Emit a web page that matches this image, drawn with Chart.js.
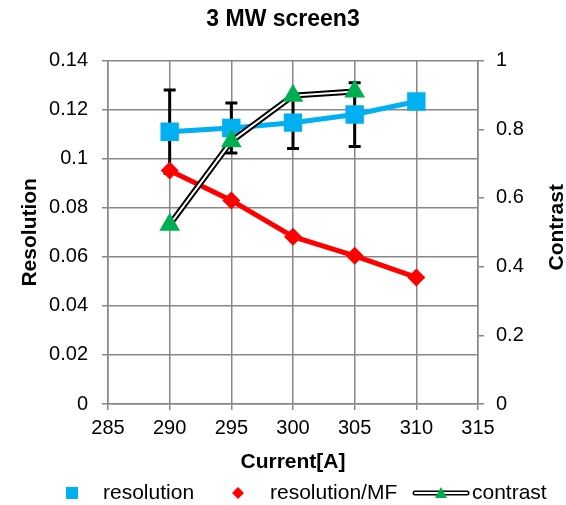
<!DOCTYPE html>
<html>
<head>
<meta charset="utf-8">
<script src="https://cdn.jsdelivr.net/npm/chart.js@4"></script>
<style>
  html, body { margin: 0; padding: 0; background: #fff; }
  #wrap { width: 566px; height: 505px; }
</style>
</head>
<body>
<div id="wrap"><canvas id="myChart" width="566" height="505"></canvas></div>
<script>
// data
const currents = [290, 295, 300, 305, 310];
const resolution = [0.111, 0.1125, 0.1147, 0.118, 0.1233];
const resolutionErr = [0.017, 0.0102, 0.0105, 0.013, 0];
const resolutionMF = [0.0952, 0.083, 0.0682, 0.0604, 0.0516];
const contrastCurrents = [290, 295, 300, 305];
const contrast = [0.522, 0.765, 0.898, 0.91];

const xTicks = [285, 290, 295, 300, 305, 310, 315];

const font = "'Liberation Sans', Arial, sans-serif";
Chart.defaults.font.family = font;
Chart.defaults.color = '#000';

const gridColor = '#878787';
const pts = (xs, ys) => xs.map((x, i) => ({ x: x, y: ys[i] }));

// error bars of the resolution series, drawn under the markers
const errorBars = {
  id: 'errorBars',
  beforeDatasetsDraw(chart) {
    const ctx = chart.ctx;
    const xs = chart.scales.x, ys = chart.scales.y;
    ctx.save();
    ctx.strokeStyle = '#000';
    ctx.lineWidth = 3;
    currents.forEach((c, i) => {
      if (!resolutionErr[i]) return;
      const px = xs.getPixelForValue(c);
      const top = ys.getPixelForValue(resolution[i] + resolutionErr[i]);
      const bot = ys.getPixelForValue(resolution[i] - resolutionErr[i]);
      ctx.beginPath();
      ctx.moveTo(px, top); ctx.lineTo(px, bot);
      ctx.moveTo(px - 6, top); ctx.lineTo(px + 6, top);
      ctx.moveTo(px - 6, bot); ctx.lineTo(px + 6, bot);
      ctx.stroke();
    });
    ctx.restore();
  }
};

// right axis title (reads bottom to top) and the legend row
const extras = {
  id: 'extras',
  afterDraw(chart) {
    const ctx = chart.ctx;
    const area = chart.chartArea;
    ctx.save();
    ctx.fillStyle = '#000';
    ctx.font = 'bold 21px ' + font;
    ctx.textAlign = 'center';
    ctx.textBaseline = 'middle';
    ctx.translate(557, (area.top + area.bottom) / 2 - 5);
    ctx.rotate(-Math.PI / 2);
    ctx.fillText('Contrast', 0, 0);
    ctx.restore();

    const y = 493;
    ctx.save();
    ctx.font = '21px ' + font;
    ctx.textAlign = 'left';
    ctx.textBaseline = 'middle';
    // resolution
    ctx.fillStyle = '#00B0F0';
    ctx.fillRect(66, y - 6, 12, 12);
    ctx.fillStyle = '#000';
    ctx.fillText('resolution', 103, y);
    // resolution/MF
    ctx.fillStyle = '#FF0000';
    ctx.beginPath();
    ctx.moveTo(238, y - 6); ctx.lineTo(244, y); ctx.lineTo(238, y + 6); ctx.lineTo(232, y);
    ctx.closePath(); ctx.fill();
    ctx.fillStyle = '#000';
    ctx.fillText('resolution/MF', 270, y);
    // contrast
    ctx.lineCap = 'round';
    ctx.strokeStyle = '#000'; ctx.lineWidth = 5;
    ctx.beginPath(); ctx.moveTo(415, y); ctx.lineTo(467, y); ctx.stroke();
    ctx.strokeStyle = '#fff'; ctx.lineWidth = 1.8;
    ctx.beginPath(); ctx.moveTo(415, y); ctx.lineTo(467, y); ctx.stroke();
    ctx.fillStyle = '#00B050';
    ctx.beginPath();
    ctx.moveTo(441, y - 6); ctx.lineTo(447, y + 5); ctx.lineTo(435, y + 5);
    ctx.closePath(); ctx.fill();
    ctx.fillStyle = '#000';
    ctx.fillText('contrast', 472, y);
    ctx.restore();
  }
};

const ctx = document.getElementById('myChart').getContext('2d');
const myChart = new Chart(ctx, {
  type: 'line',
  data: {
    datasets: [
      {
        label: 'resolution',
        data: pts(currents, resolution),
        yAxisID: 'y',
        borderColor: '#00B0F0',
        backgroundColor: '#00B0F0',
        borderWidth: 5,
        pointStyle: 'rect',
        pointRadius: 13,
        pointHoverRadius: 13,
        pointBorderWidth: 0,
        order: 4
      },
      {
        label: 'resolution/MF',
        data: pts(currents, resolutionMF),
        yAxisID: 'y',
        borderColor: '#FF0000',
        backgroundColor: '#FF0000',
        borderWidth: 5,
        pointStyle: 'rectRot',
        pointRadius: 9,
        pointHoverRadius: 9,
        pointBorderWidth: 0,
        order: 3
      },
      {
        label: 'contrast-outline',
        data: pts(contrastCurrents, contrast),
        yAxisID: 'y1',
        borderColor: '#000',
        borderWidth: 6,
        pointRadius: 0,
        order: 2
      },
      {
        label: 'contrast',
        data: pts(contrastCurrents, contrast),
        yAxisID: 'y1',
        borderColor: '#fff',
        backgroundColor: '#00B050',
        borderWidth: 2,
        pointStyle: 'triangle',
        pointRadius: 12,
        pointHoverRadius: 12,
        pointBorderColor: '#00B050',
        pointBorderWidth: 0,
        order: 1
      }
    ]
  },
  options: {
    responsive: false,
    animation: false,
    layout: { padding: { left: 0, right: 0, top: 0, bottom: 30 } },
    plugins: {
      title: {
        display: true,
        text: '3 MW screen3',
        font: { size: 23, weight: 'bold' },
        padding: { top: 6, bottom: 27 }
      },
      legend: { display: false },
      tooltip: { enabled: false }
    },
    scales: {
      x: {
        type: 'linear',
        min: 285,
        max: 315,
        afterBuildTicks: axis => { axis.ticks = xTicks.map(v => ({ value: v })); },
        afterFit: axis => { axis.height = 71; },
        ticks: { font: { size: 20 }, padding: 6 },
        grid: { color: gridColor, lineWidth: 1.5, tickLength: 6 },
        border: { color: gridColor, width: 1.5 },
        title: {
          display: true,
          text: 'Current[A]',
          font: { size: 21, weight: 'bold' },
          padding: { top: 0, bottom: 0 }
        }
      },
      y: {
        position: 'left',
        min: 0,
        max: 0.14,
        afterFit: axis => { axis.width = 108; },
        ticks: {
          stepSize: 0.02,
          font: { size: 20 },
          padding: 14,
          callback: v => String(Number(v.toFixed(2)))
        },
        grid: { color: gridColor, lineWidth: 1.5, tickLength: 6 },
        border: { color: gridColor, width: 1.5 },
        title: {
          display: true,
          text: 'Resolution',
          font: { size: 21, weight: 'bold' },
          padding: { top: 18, bottom: 0 }
        }
      },
      y1: {
        position: 'right',
        min: 0,
        max: 1,
        afterFit: axis => { axis.width = 88; },
        ticks: {
          stepSize: 0.2,
          font: { size: 20 },
          padding: 12,
          callback: v => String(Number(v.toFixed(1)))
        },
        grid: { drawOnChartArea: false, color: gridColor, lineWidth: 1.5, tickLength: 6 },
        border: { color: gridColor, width: 1.5 }
      }
    }
  },
  plugins: [errorBars, extras]
});
</script>
</body>
</html>
